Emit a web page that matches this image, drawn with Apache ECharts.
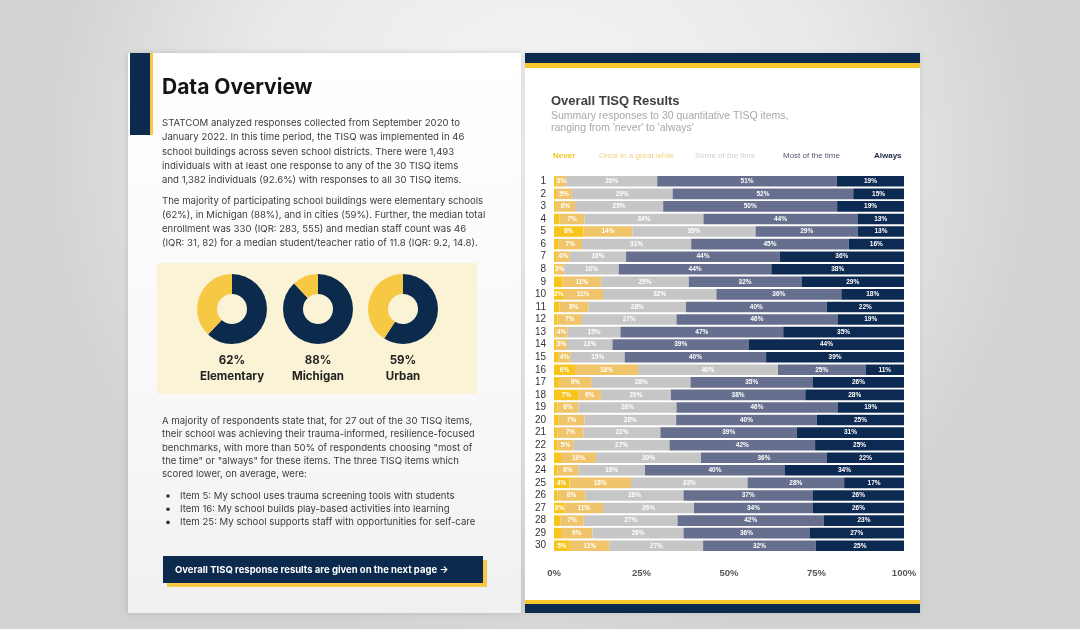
<!DOCTYPE html>
<html><head><meta charset="utf-8">
<script src="https://cdn.jsdelivr.net/npm/echarts@6/dist/echarts.min.js"></script>
<style>html,body{margin:0;padding:0;background:#e4e4e4}#c{width:1080px;height:629px}</style>
</head><body><div id="c"></div>
<script>
// ---- Data ----
const items = ['1','2','3','4','5','6','7','8','9','10','11','12','13','14','15','16','17','18','19','20','21','22','23','24','25','26','27','28','29','30'];
const seriesNames = ['Never','Once in a great while','Some of the time','Most of the time','Always'];
const never  = [0.7,0.6,0.5,1.6,8.4,1.3,0.8,0.3,2.4,2.6,1.5,1,0.4,0.7,1.2,6,1.4,7,1,1.3,1,1,2,1,4.4,1,3,1.8,2,4.5];
const once   = [2.8,4.5,5.5,7.1,14,6.7,3.7,2.6,11.1,11.4,8.4,7,3.5,3,3.6,18,9.4,6.4,6,7.4,7.4,4.6,10,6,17.6,8,11,6.7,9,11.4];
const some   = [26,28.8,25.2,34,35.2,31.2,16.1,15.6,25,32.4,27.8,27,15.1,13,15.4,40,28.2,20,28,26.2,22,27.4,30,19,33.3,28,26,26.8,26,26.7];
const most   = [51.3,51.6,49.7,44,29.2,45,43.9,43.6,32.2,35.7,40.2,46,46.5,39,40.4,25,35,38.4,46,40.2,39,41.6,36,40,27.6,37,34,41.8,36,32.2];
const always = [19.2,14.5,19.1,13.3,13.2,15.8,35.5,37.9,29.3,17.9,22.1,19,34.5,44.3,39.4,11,26,28.2,19,24.9,30.6,25.4,22,34,17.1,26,26,22.9,27,25.2];
const xTicks = ['0%','25%','50%','75%','100%'];
const donutValues = [62, 88, 59];
const donutLabels = ['Elementary','Michigan','Urban'];

const para1 = [
 'STATCOM analyzed responses collected from September 2020 to',
 'January 2022. In this time period, the TISQ was implemented in 46',
 'school buildings across seven school districts. There were 1,493',
 'individuals with at least one response to any of the 30 TISQ items',
 'and 1,382 individuals (92.6%) with responses to all 30 TISQ items.'];
const para2 = [
 'The majority of participating school buildings were elementary schools',
 '(62%), in Michigan (88%), and in cities (59%). Further, the median total',
 'enrollment was 330 (IQR: 283, 555) and median staff count was 46',
 '(IQR: 31, 82) for a median student/teacher ratio of 11.8 (IQR: 9.2, 14.8).'];
const para3 = [
 'A majority of respondents state that, for 27 out of the 30 TISQ items,',
 'their school was achieving their trauma-informed, resilience-focused',
 'benchmarks, with more than 50% of respondents choosing "most of',
 'the time" or "always" for these items. The three TISQ items which',
 'scored lower, on average, were:'];
const bullets = [
 'Item 5: My school uses trauma screening tools with students',
 'Item 16: My school builds play-based activities into learning',
 'Item 25: My school supports staff with opportunities for self-care'];

// ---- Styles ----
const NAVY = '#0c2a4e';
const colors = ['#f7c51c','#efc46a','#c6c6c6','#676f8e','#0d2a52'];
const legendColors = ['#f2c21a','#f1d284','#cfcfcf','#555b70','#1a2a48'];
const bodyFont = 'Inter, "Noto Sans", sans-serif';
const chartFont = '"Liberation Sans", Arial, sans-serif';

const chart = echarts.init(document.getElementById('c'), null, {renderer:'canvas'});
const graphics = [];
// background
graphics.push({type:'rect', z:-20, shape:{x:0,y:0,width:1080,height:629},
  style:{fill:{type:'radial',x:0.5,y:0.25,r:0.8,colorStops:[{offset:0,color:'#f6f6f6'},{offset:0.6,color:'#e9e9e9'},{offset:1,color:'#d2d2d2'}]}}});
// left page
graphics.push({type:'rect', z:-10, shape:{x:128,y:53,width:393,height:560},
  style:{fill:{type:'linear',x:0,y:0,x2:0,y2:1,colorStops:[{offset:0,color:'#ffffff'},{offset:0.7,color:'#f7f7f7'},{offset:1,color:'#f0f0f0'}]}, shadowBlur:6, shadowColor:'rgba(0,0,0,0.15)'}});
graphics.push({type:'rect', z:-9, shape:{x:130,y:53,width:20,height:82}, style:{fill:NAVY}});
graphics.push({type:'rect', z:-9, shape:{x:150,y:53,width:3,height:82}, style:{fill:'#f6c843'}});
// right page
graphics.push({type:'rect', z:-10, shape:{x:525,y:53,width:395,height:560}, style:{fill:'#ffffff', shadowBlur:4, shadowColor:'rgba(0,0,0,0.1)'}});
graphics.push({type:'rect', z:-9, shape:{x:525,y:53,width:395,height:10}, style:{fill:NAVY}});
graphics.push({type:'rect', z:-9, shape:{x:525,y:63,width:395,height:5}, style:{fill:'#f8c72c'}});
graphics.push({type:'rect', z:-9, shape:{x:525,y:600,width:395,height:4}, style:{fill:'#f8c72c'}});
graphics.push({type:'rect', z:-9, shape:{x:525,y:604,width:395,height:9}, style:{fill:NAVY}});
// left texts
graphics.push({type:'text', z:5, style:{x:162,y:88,text:'Data Overview',fill:'#141414',font:'bold 21px '+bodyFont,textVerticalAlign:'middle'}});
para1.forEach((t,i)=>graphics.push({type:'text', z:5, style:{x:162,y:123+i*14.4,text:t,fill:'#3c3c3c',font:'9.6px '+bodyFont,textVerticalAlign:'middle'}}));
para2.forEach((t,i)=>graphics.push({type:'text', z:5, style:{x:162,y:201+i*14.2,text:t,fill:'#3c3c3c',font:'9.6px '+bodyFont,textVerticalAlign:'middle'}}));
// donut panel
graphics.push({type:'rect', z:-5, shape:{x:157,y:263,width:320,height:131}, style:{fill:'#fbf3d6'}});
const donutX = [232,318,403];
donutValues.forEach((v,i)=>{
  graphics.push({type:'text', z:5, style:{x:donutX[i],y:361,text:v+'%',fill:'#222',font:'bold 11.5px '+bodyFont,textAlign:'center',textVerticalAlign:'middle'}});
  graphics.push({type:'text', z:5, style:{x:donutX[i],y:377,text:donutLabels[i],fill:'#222',font:'bold 11.5px '+bodyFont,textAlign:'center',textVerticalAlign:'middle'}});
});
para3.forEach((t,i)=>graphics.push({type:'text', z:5, style:{x:162,y:421+i*13.4,text:t,fill:'#3c3c3c',font:'9.6px '+bodyFont,textVerticalAlign:'middle'}}));
bullets.forEach((t,i)=>{
  graphics.push({type:'circle', z:5, shape:{cx:168,cy:496+i*13.2,r:1.8}, style:{fill:'#333'}});
  graphics.push({type:'text', z:5, style:{x:180,y:496+i*13.2,text:t,fill:'#3c3c3c',font:'9.6px '+bodyFont,textVerticalAlign:'middle'}});
});
// button
graphics.push({type:'rect', z:1, shape:{x:167,y:560,width:320,height:27}, style:{fill:'#f6c843'}});
graphics.push({type:'rect', z:2, shape:{x:163,y:556,width:320,height:27}, style:{fill:NAVY}});
graphics.push({type:'text', z:5, style:{x:175,y:570,text:'Overall TISQ response results are given on the next page \u2192',fill:'#ffffff',font:'bold 9.5px '+bodyFont,textVerticalAlign:'middle'}});
// chart title
graphics.push({type:'text', z:5, style:{x:551,y:101,text:'Overall TISQ Results',fill:'#404040',font:'bold 13px '+chartFont,textVerticalAlign:'middle'}});
graphics.push({type:'text', z:5, style:{x:551,y:116,text:'Summary responses to 30 quantitative TISQ items,',fill:'#a8a8a8',font:'10.5px '+chartFont,textVerticalAlign:'middle'}});
graphics.push({type:'text', z:5, style:{x:551,y:128,text:"ranging from 'never' to 'always'",fill:'#a8a8a8',font:'10.5px '+chartFont,textVerticalAlign:'middle'}});
// legend as coloured text
const legendX = [553,599,695,783,874];
seriesNames.forEach((n,i)=>graphics.push({type:'text', z:5, style:{x:legendX[i],y:156,text:n,fill:legendColors[i],font:(i===0||i===4?'bold ':'')+'8px '+chartFont,textVerticalAlign:'middle'}}));

const seriesData = [never, once, some, most, always];
const series = seriesNames.map((n,i)=>({
  name:n, type:'bar', stack:'total', data:seriesData[i], barWidth:10.6,
  itemStyle:{color:colors[i]},
  label:{show:true, position:'inside', color:'#ffffff', fontSize:6.5, fontWeight:'bold', fontFamily:chartFont,
    formatter:p=>p.value>=2.5?Math.round(p.value)+'%':''},
  emphasis:{disabled:true}, animation:false
}));
donutValues.forEach((v,i)=>series.push({
  type:'pie', center:[donutX[i],309], radius:[15,35], startAngle:90, clockwise:true, silent:true, animation:false,
  label:{show:false}, labelLine:{show:false},
  data:[{value:v,itemStyle:{color:'#0b2a4c'}},{value:100-v,itemStyle:{color:'#f6c843'}}]
}));

chart.setOption({
  animation:false,
  grid:{left:554, top:175, width:350, height:377, containLabel:false},
  xAxis:{type:'value', min:0, max:100, interval:25, splitLine:{show:false}, axisLine:{show:false}, axisTick:{show:false},
    axisLabel:{margin:16, color:'#555', fontSize:9.5, fontWeight:'bold', fontFamily:chartFont,
      formatter:v=>xTicks[v/25]}},
  yAxis:{type:'category', data:items, inverse:true, axisLine:{show:false}, axisTick:{show:false},
    axisLabel:{interval:0, margin:8, color:'#333', fontSize:10, fontFamily:chartFont}},
  graphic:{elements:graphics},
  series:series
});
</script></body></html>
